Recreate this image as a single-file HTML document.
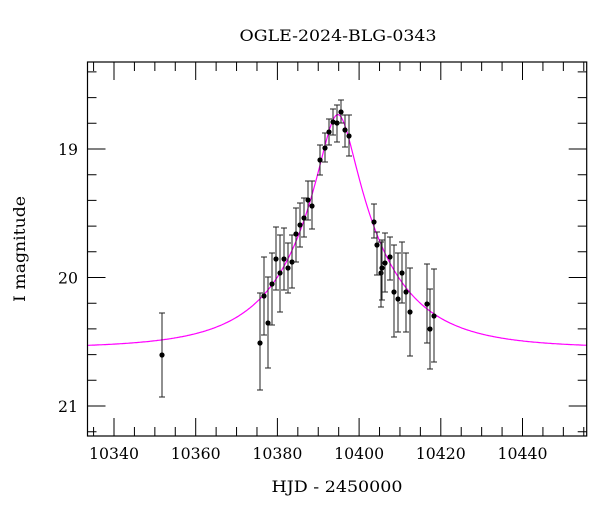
<!DOCTYPE html>
<html><head><meta charset="utf-8"><style>
body{margin:0;background:#fff}
svg text{font-family:"DejaVu Serif","Liberation Serif",serif;fill:#000}
</style></head><body>
<svg id="s" width="600" height="512" viewBox="0 0 600 512" xmlns="http://www.w3.org/2000/svg">
<rect width="600" height="512" fill="#fff"/>
<text x="338" y="41" font-size="16" text-anchor="middle" textLength="197" lengthAdjust="spacingAndGlyphs">OGLE-2024-BLG-0343</text>
<text x="337" y="492" font-size="16" text-anchor="middle" textLength="131" lengthAdjust="spacingAndGlyphs">HJD - 2450000</text>
<text transform="translate(25,249) rotate(-90)" font-size="16" text-anchor="middle" textLength="106" lengthAdjust="spacingAndGlyphs">I magnitude</text>
<g id="g"></g>
</svg>
<script>
var L=87.5,R=586.7,T=62,B=436;
function X(d){return 114+(d-10340)*4.085}
function Y(m){return 149+(m-19)*128.5}
var h='';
h+='<path id="c" fill="none" stroke="#ff00ff" stroke-width="1.2" d="';
var u0=0.19,tE=21.7,t0=10394.8,base=20.55;
for(var px=L;px<=R;px+=1){var d=10340+(px-114)/4.085;var u=Math.sqrt(u0*u0+Math.pow((d-t0)/tE,2));var A=(u*u+2)/(u*Math.sqrt(u*u+4));var m=base-2.5*Math.log10(A);h+=(px==L?'M':'L')+px.toFixed(1)+' '+Y(m).toFixed(1);}
h+='"/>';
var pts=[[162,355,313,397],[260,343,293,390],[264,296,257,335],[268,323,277,368],[272,284,253,325],[276,259,227,290],[280,273,235,312],[284,259,228,290],[288,268,243,293],[292,262,235,288],[296,234,208,262],[300,225,203,247],[304,218,198,237],[308,200,181,220],[312,206,181,229],[320,160,145,175],[325,148,133,162],[329,132,119,145],[333,122,109,135],[337,123,105,142],[341,112,100,123],[345,130,115,147],[349,136,115,156],[374,222,204,238],[377,245,232,275],[381,273,242,307],[382,268,240,300],[385,263,233,292],[390,257,237,280],[394,292,245,337],[398,299,253,332],[402,273,242,303],[406,292,253,332],[410,312,268,356],[427,304,264,343],[430,329,289,369],[434,316,269,362]];
pts.forEach(function(p){h+='<path d="M'+p[0]+' '+p[2]+'V'+p[3]+'M'+(p[0]-3)+' '+p[2]+'h6M'+(p[0]-3)+' '+p[3]+'h6" stroke="#222" stroke-width="1" fill="none"/><circle cx="'+p[0]+'" cy="'+p[1]+'" r="2.6" fill="#000"/>';});
h+='<rect x="'+L+'" y="'+T+'" width="'+(R-L)+'" height="'+(B-T)+'" fill="none" stroke="#000" stroke-width="1.2"/>';
var t='';
for(var d=10335;d<=10455;d+=5){var x=X(d);var lg=(d%20==0);var len=lg?18:9;t+='M'+x+' '+B+'v-'+len+'M'+x+' '+T+'v'+len;
 if(lg)h+='<text x="'+x+'" y="459" font-size="16" text-anchor="middle" textLength="50" lengthAdjust="spacingAndGlyphs">'+d+'</text>';}
for(var k=0;k<=14;k++){var m=18.4+k*0.2;var y=Y(m);if(y<T||y>B)continue;var mj=Math.abs(m-Math.round(m))<0.01;var len=mj?18:9;t+='M'+L+' '+y+'h'+len+'M'+R+' '+y+'h-'+len;
 if(mj)h+='<text x="78" y="'+(y+6)+'" font-size="16" text-anchor="end" textLength="20" lengthAdjust="spacingAndGlyphs">'+Math.round(m)+'</text>';}
h+='<path d="'+t+'" stroke="#000" stroke-width="1" fill="none"/>';
document.getElementById('g').innerHTML=h;
</script>
</body></html>
